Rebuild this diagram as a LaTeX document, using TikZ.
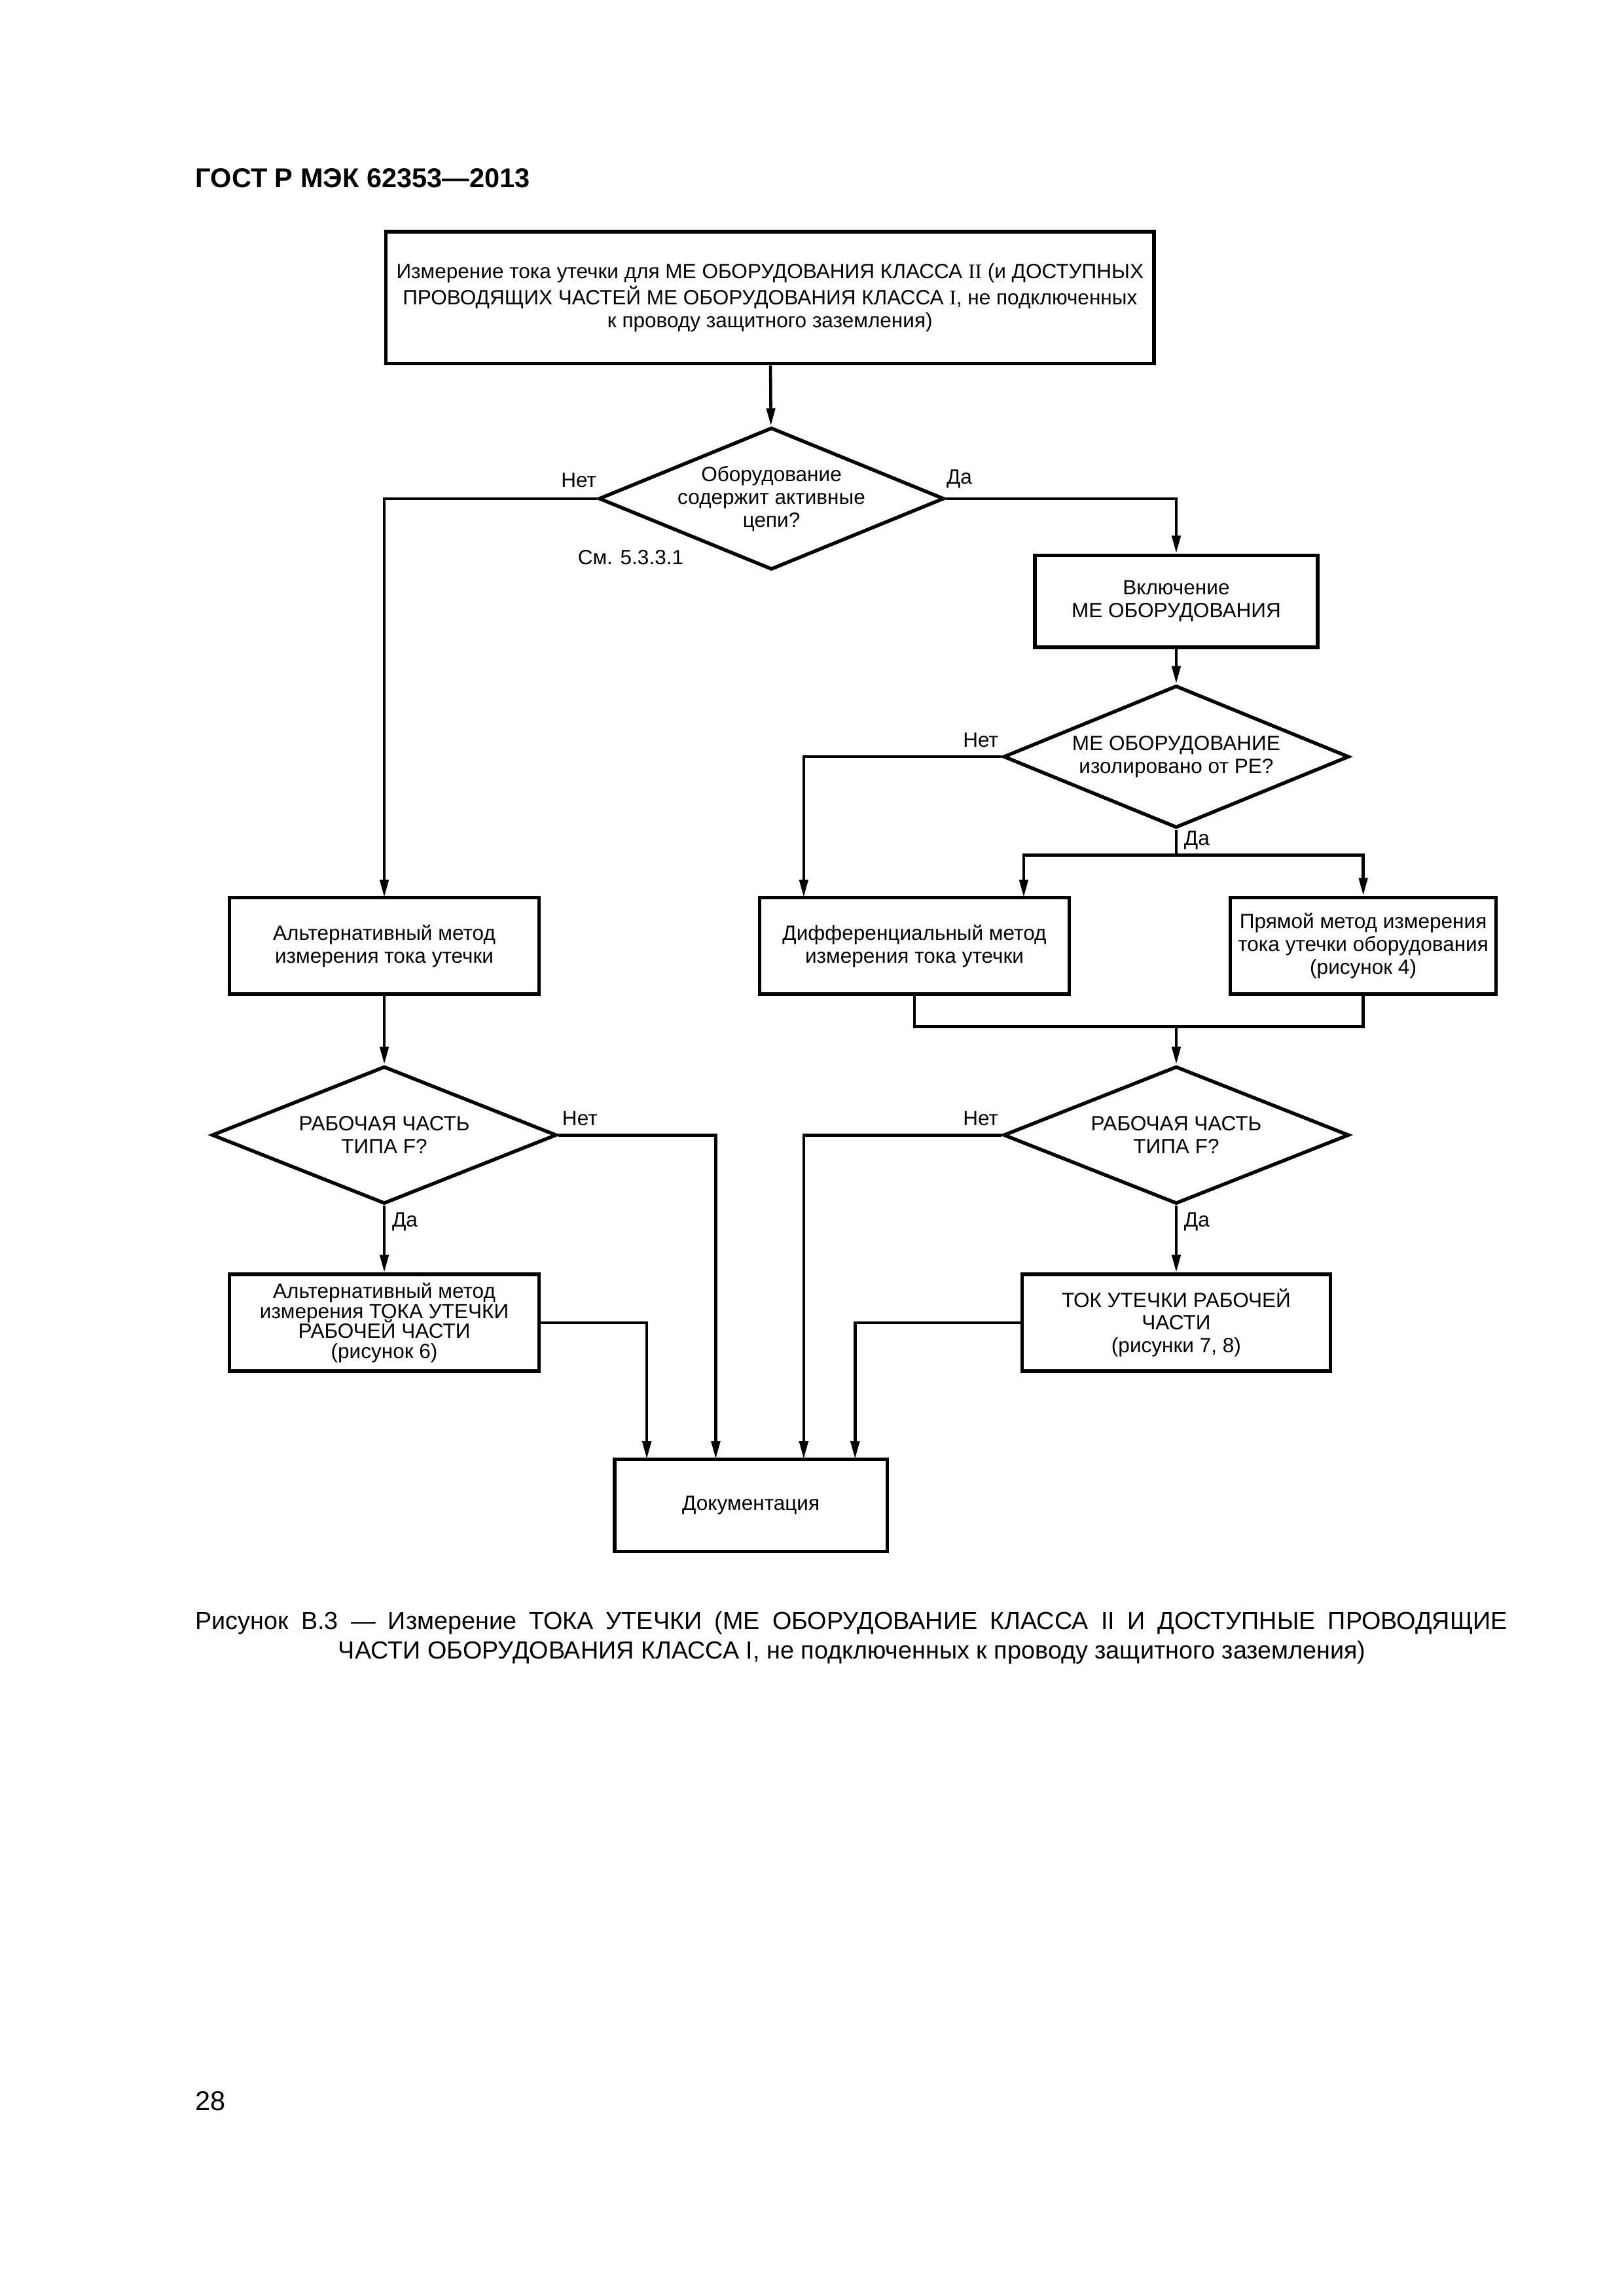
\documentclass[tikz,border=0pt]{standalone}
\usepackage{fontspec}
\setmainfont{Liberation Sans}
\newfontfamily\romannum{Liberation Serif}
\newcommand\tightlines{\fontsize{7.6pt}{7.4pt}\selectfont\setlength{\lineskiplimit}{-4pt}}
\usetikzlibrary{arrows.meta,shapes.geometric,positioning}

\begin{document}
\begin{tikzpicture}
	[x=0.1897mm, y=-0.1897mm, inner sep=0pt,
	box/.style	= {rectangle, draw, line width=1.3pt, align=center, font=\fontsize{7.6pt}{8.4pt}\selectfont, minimum height=12.52mm},
	decision/.style	= {diamond, draw, line width=1.3pt, aspect=2.43, align=center, font=\fontsize{7.6pt}{8.4pt}\selectfont},
	answer/.style	= {font=\fontsize{7.6pt}{8.4pt}\selectfont},
	paths/.style	= {line width=1.1pt, -{Triangle[length=2.3mm, width=1.1mm]}},
	joins/.style	= {line width=1.1pt}]

	\useasboundingbox (0mm,0mm) rectangle (210mm,-297mm);

	\node at (133,128)	[anchor=base west, font=\fontsize{10pt}{12pt}\selectfont\bfseries]	(header)	{ГОСТ Р МЭК 62353—2013};

	\node at (525,203)	[box, minimum width=99.35mm, minimum height=17.09mm]	(start)	{Измерение тока утечки для МЕ ОБОРУДОВАНИЯ КЛАССА {\romannum II} (и ДОСТУПНЫХ\\ПРОВОДЯЩИХ ЧАСТЕЙ МЕ ОБОРУДОВАНИЯ КЛАССА {\romannum I}, не подключенных\\к проводу защитного заземления)};
	\node at (526,340)	[decision, minimum width=44.2mm, minimum height=18.2mm]	(active)	{Оборудование\\содержит активные\\цепи?};
	\node at (802,410)	[box, minimum width=36.55mm, minimum height=11.92mm]	(power)	{Включение\\МЕ ОБОРУДОВАНИЯ};
	\node at (802,516)	[decision, minimum width=44.7mm, minimum height=18.4mm]	(isol)	{МЕ ОБОРУДОВАНИЕ\\изолировано от РЕ?};

	\node at (262,645)	[box, minimum width=40.04mm]	(alt)	{Альтернативный метод\\измерения тока утечки};
	\node at (623.5,645)	[box, minimum width=40.04mm]	(diff)	{Дифференциальный метод\\измерения тока утечки};
	\node at (929.5,645)	[box, minimum width=34.38mm]	(direct)	{Прямой метод измерения\\тока утечки оборудования\\(рисунок 4)};

	\node at (262,774)	[decision, minimum width=44.6mm, minimum height=17.78mm]	(type1)	{РАБОЧАЯ ЧАСТЬ\\ТИПА F?};
	\node at (802,774)	[decision, minimum width=44.7mm, minimum height=17.78mm]	(type2)	{РАБОЧАЯ ЧАСТЬ\\ТИПА F?};

	\node at (262,902)	[box, minimum width=40.04mm, font=\tightlines]	(altpart)	{Альтернативный метод\\измерения ТОКА УТЕЧКИ\\РАБОЧЕЙ ЧАСТИ\\(рисунок 6)};
	\node at (802,902)	[box, minimum width=39.84mm]	(tokpart)	{ТОК УТЕЧКИ РАБОЧЕЙ\\ЧАСТИ\\(рисунки 7, 8)};

	\node at (512,1026.5)	[box, minimum width=35.27mm, minimum height=11.92mm]	(docu)	{Документация};

	\node at (407,333)	[answer, anchor=south east]	(no1)	{Нет};
	\node at (645,333)	[answer, anchor=south west]	(yes1)	{Да};
	\node at (430,380)	[answer]	(see)	{См. 5.3.3.1};
	\node at (681,510)	[answer, anchor=south east]	(no2)	{Нет};
	\node at (807,573)	[answer, anchor=west]	(yes2)	{Да};
	\node at (383,768)	[answer, anchor=south west]	(no3)	{Нет};
	\node at (267,833)	[answer, anchor=west]	(yes3)	{Да};
	\node at (681,768)	[answer, anchor=south east]	(no4)	{Нет};
	\node at (807,833)	[answer, anchor=west]	(yes4)	{Да};

	\coordinate (altin)	at (262,612);
	\coordinate (diffno)	at (548,612);
	\coordinate (diffyes)	at (698,612);
	\coordinate (split)	at (802,583);
	\coordinate (merge)	at (802,700);
	\coordinate (docA)	at (441,995);
	\coordinate (docB)	at (488,995);
	\coordinate (docC)	at (548,995);
	\coordinate (docD)	at (583,995);

	\draw [paths] (start) -- (active);
	\draw [paths] (active.west) -| (altin);
	\draw [paths] (active.east) -| (power.north);
	\draw [paths] (power) -- (isol);
	\draw [paths] (isol.west) -| (diffno);
	\draw [joins] (isol.south) -- (split);
	\draw [paths] (split) -| (diffyes);
	\draw [paths] (split) -| (direct.north);
	\draw [joins] (diff.south) |- (merge) -| (direct.south);
	\draw [paths] (merge) -- (type2.north);
	\draw [paths] (alt) -- (type1);
	\draw [paths] (type1) -- (altpart);
	\draw [paths] (type2) -- (tokpart);
	\draw [paths] (type1.east) -| (docB);
	\draw [paths] (type2.west) -| (docC);
	\draw [paths] (altpart.east) -| (docA);
	\draw [paths] (tokpart.west) -| (docD);

	\node at (580.5,1111)	[anchor=base, font=\fontsize{9.1pt}{11pt}\selectfont]	(caption1)	{\makebox[169.7mm][s]{Рисунок В.3 — Измерение ТОКА УТЕЧКИ (МЕ ОБОРУДОВАНИЕ КЛАССА II И ДОСТУПНЫЕ ПРОВОДЯЩИЕ}};
	\node at (581,1131)	[anchor=base, font=\fontsize{9.1pt}{11pt}\selectfont]	(caption2)	{ЧАСТИ ОБОРУДОВАНИЯ КЛАССА I, не подключенных к проводу защитного заземления)};
	\node at (133,1439)	[anchor=base west, font=\fontsize{10pt}{12pt}\selectfont]	(pageno)	{28};
\end{tikzpicture}
\end{document}
